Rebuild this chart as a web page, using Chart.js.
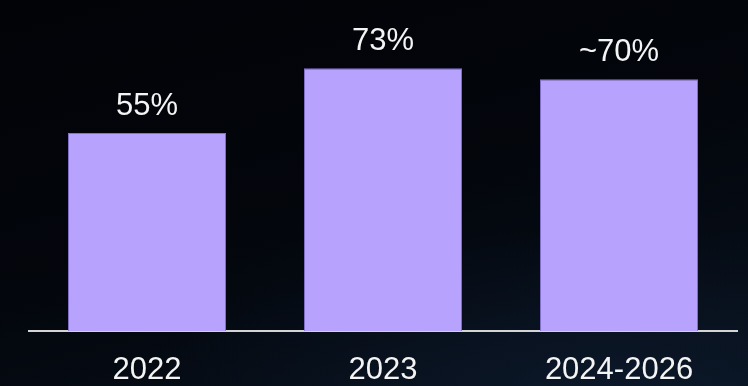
<!DOCTYPE html>
<html>
<head>
<meta charset="utf-8">
<script src="https://cdn.jsdelivr.net/npm/chart.js@4"></script>
<style>
  html, body { margin: 0; padding: 0; }
  body {
    width: 748px; height: 386px; overflow: hidden;
    background:
      radial-gradient(ellipse 80% 55% at 80% 100%, rgba(16, 32, 56, 0.45), rgba(0, 0, 0, 0) 75%),
      linear-gradient(165deg, #020307 0%, #03060c 50%, #08111d 100%);
  }
  #wrap { position: relative; width: 748px; height: 386px; }
</style>
</head>
<body>
<div id="wrap"><canvas id="share"></canvas></div>
<script>
const years = ['2022', '2023', '2024-2026']
const shares = [55, 73, 70]
const shareLabels = ['55%', '73%', '~70%']

const FONT = '"Liberation Sans", Arial, sans-serif'

// value text above every bar
const barText = {
    id: 'barText',
    afterDatasetsDraw(chart) {
        const ctx = chart.ctx
        const meta = chart.getDatasetMeta(0)
        ctx.save()
        ctx.fillStyle = '#f4f4f4'
        ctx.font = '31px ' + FONT
        ctx.textAlign = 'center'
        ctx.textBaseline = 'alphabetic'
        meta.data.forEach(function (bar, i) {
            ctx.fillText(shareLabels[i], bar.x, bar.y - 18)
        })
        ctx.restore()
    }
}

const data = {
    labels: years,
    datasets: [{
        data: shares,
        backgroundColor: '#b7a3fd',
        borderColor: '#8572cf',
        borderWidth: 1,
        barPercentage: 0.67,
        categoryPercentage: 1
    }]
}

const options = {
    responsive: true,
    maintainAspectRatio: false,
    animation: false,
    layout: { padding: { left: 29, right: 11, top: 0, bottom: 0 } },
    plugins: {
        legend: { display: false },
        tooltip: { enabled: false }
    },
    scales: {
        x: {
            grid: { display: false },
            border: { color: '#d4d4d4', width: 2 },
            ticks: {
                color: '#f4f4f4',
                padding: 13,
                maxRotation: 0,
                font: { family: FONT, size: 31 }
            },
            // keep the axis strip a fixed height under the bars
            afterFit(scale) {
                scale.height = 55
            }
        },
        y: {
            display: false,
            min: 0,
            max: 92
        }
    }
}

new Chart(document.getElementById('share'), {
    type: 'bar',
    data: data,
    options: options,
    plugins: [barText]
})
</script>
</body>
</html>
